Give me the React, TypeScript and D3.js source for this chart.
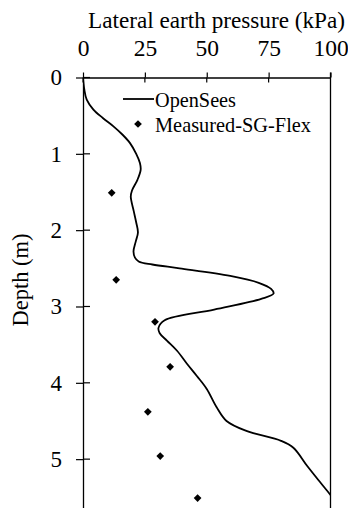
import { useEffect, useRef } from 'react';
import * as d3 from 'd3';

// OpenSees curve: [pressure kPa, depth m]
const openSees: [number, number][] = [
  [0, 0], [0.5, 0.15], [1.5, 0.29], [4.2, 0.42], [8, 0.53], [12.3, 0.64], [16, 0.75],
  [19, 0.86], [21.5, 1.0], [23, 1.12], [23.3, 1.21], [22, 1.34], [19.8, 1.48], [19.3, 1.56],
  [20.5, 1.75], [21.5, 1.9], [22.2, 2.03], [21.3, 2.15], [20.4, 2.28], [21, 2.36],
  [22.5, 2.41], [28, 2.45], [39, 2.5], [59.5, 2.6], [71, 2.69], [76, 2.77], [77, 2.83],
  [72, 2.9], [53, 3.04], [33, 3.18], [30.5, 3.28], [31, 3.35], [34, 3.45], [38, 3.58],
  [42, 3.75], [46, 3.91], [50, 4.08], [54, 4.32], [58, 4.5], [66, 4.63], [80, 4.76],
  [85, 4.85], [90.6, 5.09], [96, 5.31], [100, 5.47], [103, 5.62],
];

// Measured-SG-Flex points: [pressure kPa, depth m]
const measured: [number, number][] = [
  [11.6, 1.51], [13.4, 2.65], [29.1, 3.2], [35.2, 3.79], [26.2, 4.38], [31.2, 4.96], [46.3, 5.51],
];

const xTicks = [0, 25, 50, 75, 100];
const yTicks = [0, 1, 2, 3, 4, 5];

export default function App() {
  const svgRef = useRef<SVGSVGElement>(null);

  useEffect(() => {
    document.body.style.margin = '0';
    if (!svgRef.current) return;
    const width = 348;
    const height = 508;
    const left = 83;
    const right = 330.5;
    const top = 77.5;
    const bottom = 508;

    const svg = d3.select(svgRef.current);
    svg.selectAll('*').remove();
    svg.attr('width', width).attr('height', height);

    const x = d3.scaleLinear().domain([0, 100]).range([left, right]);
    const y = d3.scaleLinear().domain([0, 5.64]).range([top, bottom]);
    const font = '"Liberation Serif", "Times New Roman", serif';

    svg.append('defs').append('clipPath').attr('id', 'plot')
      .append('rect').attr('x', left).attr('y', top).attr('width', right - left).attr('height', bottom - top);

    // Curve
    const line = d3.line<[number, number]>()
      .x((d) => x(d[0]))
      .y((d) => y(d[1]))
      .curve(d3.curveCatmullRom.alpha(0.5));
    svg.append('path')
      .datum(openSees)
      .attr('d', line)
      .attr('clip-path', 'url(#plot)')
      .attr('fill', 'none')
      .attr('stroke', '#000')
      .attr('stroke-width', 1.8);

    // Measured points
    const diamond = d3.symbol(d3.symbolSquare, 30);
    svg.selectAll('path.pt')
      .data(measured)
      .join('path')
      .attr('class', 'pt')
      .attr('d', diamond)
      .attr('transform', (d) => `translate(${x(d[0])},${y(d[1])}) rotate(45)`)
      .attr('fill', '#000');

    // Top axis
    const xAxis = svg.append('g').attr('transform', `translate(0,${top})`);
    xAxis.call(
      d3.axisTop(x).tickValues(d3.range(0, 101, 5)).tickSize(4).tickFormat(() => ''),
    );
    xAxis.call(
      d3.axisTop(x).tickValues(xTicks).tickSizeInner(5).tickSizeOuter(0).tickPadding(17)
        .tickFormat((d) => `${d}`),
    );
    xAxis.selectAll('path.domain').attr('stroke-width', 1.3);
    xAxis.selectAll('.tick line').attr('stroke-width', 1.2);
    xAxis.selectAll('text').attr('font-family', font).attr('font-size', 23.5).attr('fill', '#000');
    // major ticks cross the axis
    xTicks.slice(0, 4).forEach((v) => {
      svg.append('line').attr('x1', x(v)).attr('x2', x(v)).attr('y1', top).attr('y2', top + 5)
        .attr('stroke', '#000').attr('stroke-width', 1.2);
    });

    // Left axis
    const yAxis = svg.append('g').attr('transform', `translate(${left},0)`);
    yAxis.call(
      d3.axisLeft(y).tickValues(d3.range(0, 5.7, 0.2)).tickSize(5).tickSizeOuter(0).tickFormat(() => ''),
    );
    yAxis.call(
      d3.axisLeft(y).tickValues(yTicks).tickSizeInner(7).tickSizeOuter(0).tickPadding(14)
        .tickFormat((d) => `${d}`),
    );
    yAxis.selectAll('path.domain').attr('stroke-width', 1.3);
    yAxis.selectAll('.tick line').attr('stroke-width', 1.2);
    yAxis.selectAll('text').attr('font-family', font).attr('font-size', 23).attr('fill', '#000');
    yTicks.forEach((v) => {
      svg.append('line').attr('x1', left).attr('x2', left + 7).attr('y1', y(v)).attr('y2', y(v))
        .attr('stroke', '#000').attr('stroke-width', 1.2);
    });

    // Right border
    svg.append('line').attr('x1', right).attr('x2', right).attr('y1', top - 5).attr('y2', bottom)
      .attr('stroke', '#000').attr('stroke-width', 1.3);

    // Titles
    svg.append('text')
      .attr('x', 88)
      .attr('y', 28)
      .attr('font-family', font)
      .attr('font-size', 23.5)
      .attr('textLength', 257)
      .attr('lengthAdjust', 'spacingAndGlyphs')
      .text('Lateral earth pressure (kPa)');
    svg.append('text')
      .attr('transform', `translate(28,280) rotate(-90)`)
      .attr('text-anchor', 'middle')
      .attr('font-family', font)
      .attr('font-size', 22.5)
      .text('Depth (m)');

    // Legend
    const lg = svg.append('g');
    lg.append('line').attr('x1', 123).attr('x2', 154).attr('y1', 99).attr('y2', 99)
      .attr('stroke', '#000').attr('stroke-width', 1.8);
    lg.append('text').attr('x', 155).attr('y', 106.5).attr('font-family', font).attr('font-size', 21)
      .attr('textLength', 81).attr('lengthAdjust', 'spacingAndGlyphs')
      .text('OpenSees');
    lg.append('path').attr('d', diamond).attr('transform', 'translate(138,124) rotate(45)').attr('fill', '#000');
    lg.append('text').attr('x', 155).attr('y', 131.5).attr('font-family', font).attr('font-size', 21)
      .attr('textLength', 156).attr('lengthAdjust', 'spacingAndGlyphs')
      .text('Measured-SG-Flex');
  }, []);

  return <svg ref={svgRef} style={{ display: 'block' }} />;
}
